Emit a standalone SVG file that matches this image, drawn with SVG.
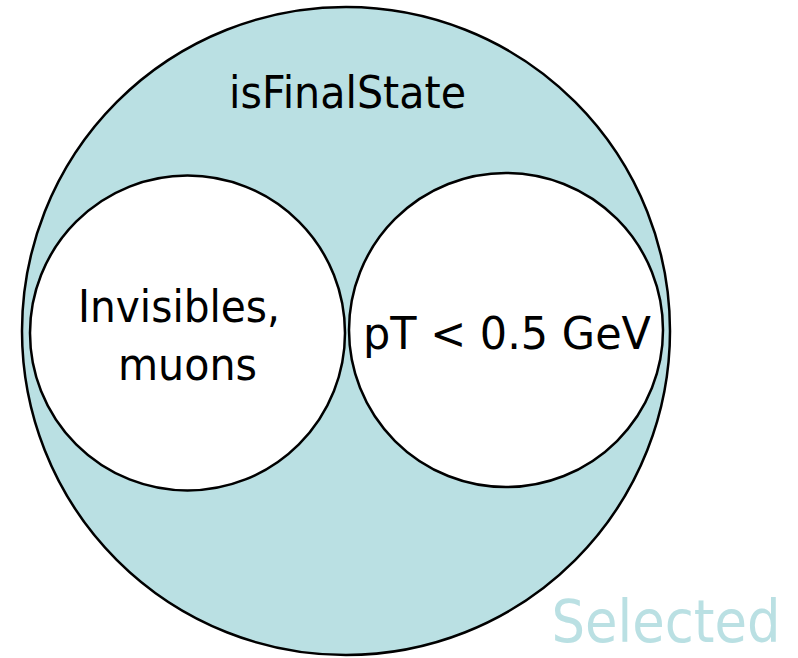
<svg xmlns="http://www.w3.org/2000/svg" width="798" height="658" viewBox="0 0 798 658">
<style>
.lbl{font-family:"DejaVu Sans","Liberation Sans",Arial,sans-serif;font-size:44px;fill:#000;text-anchor:middle}
.set{stroke:#000;stroke-width:2.5}
</style>
<rect width="798" height="658" fill="#fff"/>
<g id="selected">
<circle class="set" cx="346" cy="331" r="324" fill="#BAE0E3"/>
<text x="666" y="642" style="font-family:'DejaVu Sans','Liberation Sans',Arial,sans-serif;font-size:58px;fill:#BAE0E3;text-anchor:middle" textLength="229" lengthAdjust="spacingAndGlyphs">Selected</text>
<text class="lbl" x="347.5" y="108" textLength="237" lengthAdjust="spacingAndGlyphs">isFinalState</text>
</g>
<g id="invisibles">
<circle class="set" cx="187.5" cy="333" r="157.5" fill="#fff"/>
<text class="lbl" x="179" y="322" textLength="202" lengthAdjust="spacingAndGlyphs">Invisibles,</text>
<text class="lbl" x="187.5" y="380" textLength="139" lengthAdjust="spacingAndGlyphs">muons</text>
</g>
<g id="lowpt">
<circle class="set" cx="506" cy="330" r="157" fill="#fff"/>
<text class="lbl" x="507" y="349" textLength="288" lengthAdjust="spacingAndGlyphs">pT &lt; 0.5 GeV</text>
</g>
<g id="connectors"/>
</svg>
